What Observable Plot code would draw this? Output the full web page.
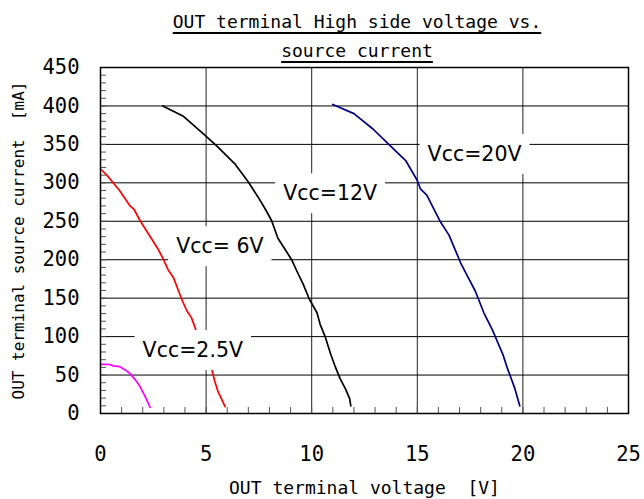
<!DOCTYPE html>
<html>
<head>
<meta charset="utf-8">
<script src="https://cdn.jsdelivr.net/npm/d3@7"></script>
<script src="https://cdn.jsdelivr.net/npm/@observablehq/plot@0.6"></script>
<style>
  html, body { margin: 0; padding: 0; background: #fff; }
  body { width: 644px; height: 499px; overflow: hidden; font-family: "DejaVu Sans Mono", monospace; }
  #title { position: relative; height: 60px; width: 644px; }
  .tline { position: absolute; left: 357px; transform: translateX(-50%); white-space: nowrap;
           font-family: "DejaVu Sans Mono", monospace;
           font-size: 18px; color: #000; text-decoration: underline; text-decoration-thickness: 2px;
           text-underline-offset: 4px; line-height: 24px; }
  svg { display: block; overflow: visible; font-family: "DejaVu Sans Mono", monospace; }
  g[aria-label="x-axis tick label"] text, g[aria-label="y-axis tick label"] text { font-size: 20.5px; }
  g[aria-label="x-axis label"] text { font-size: 18px; }
  g[aria-label="y-axis label"] text { font-size: 16px; }
</style>
</head>
<body>
<div id="title">
  <div class="tline" style="top:10px">OUT terminal High side voltage vs.</div>
  <div class="tline" style="top:39px">source current</div>
</div>
<script>
// ---- data ----
const xTicks = [0, 5, 10, 15, 20, 25];
const yTicks = [0, 50, 100, 150, 200, 250, 300, 350, 400, 450];

const v25X = [0, 0.4, 0.6, 0.9, 1.15, 1.4, 1.55, 1.7, 1.85, 2.1, 2.35];
const v25Y = [64, 64, 62, 61, 57, 52, 47, 42, 36, 23, 8];

const v6X = [0, 0.3, 0.6, 0.9, 1.2, 1.4, 1.6, 1.85, 2.1, 2.4, 2.7, 2.95, 3.2, 3.45, 3.7, 3.9, 4.1, 4.3, 4.45, 4.55, 5.26, 5.4, 5.57, 5.73, 5.9];
const v6Y = [318, 310, 300, 290, 278, 270, 265, 252, 241, 228, 215, 202, 187, 177, 159, 145, 133, 125, 114, 105, 58, 43, 28, 19, 9];

const v12X = [2.95, 3.9, 4.9, 5.5, 6.35, 7.0, 7.45, 7.8, 8.1, 8.4, 8.75, 9.05, 9.3, 9.6, 9.9, 10.25, 10.4, 10.65, 10.9, 11.1, 11.35, 11.6, 11.8, 11.85];
const v12Y = [400, 387, 363, 348, 325, 301, 282, 266, 251, 228, 213, 200, 185, 168, 148, 131, 116, 99, 77, 62, 45, 32, 19, 10];

const v20X = [11.0, 12.0, 12.9, 13.65, 14.45, 15.0, 15.15, 15.45, 16.1, 16.5, 16.9, 17.05, 17.35, 17.75, 18.15, 18.55, 19.05, 19.25, 19.6, 19.85];
const v20Y = [402, 390, 370, 350, 329, 303, 292, 284, 249, 232, 206, 196, 180, 159, 131, 109, 77, 60, 34, 10];

const labelText = ["Vcc=20V", "Vcc=12V", "Vcc= 6V", "Vcc=2.5V"];
const labelX = [17.71, 10.87, 5.65, 4.37];
const labelY = [337, 286, 217, 82];

// ---- build tables ----
const pts = (xs, ys) => xs.map((x, i) => ({x, y: ys[i]}));
const labels = labelText.map((t, i) => ({t, x: labelX[i], y: labelY[i]}));

const chart = Plot.plot({
  width: 644,
  height: 439,
  marginTop: 7,
  marginBottom: 86,
  marginLeft: 100,
  marginRight: 16,
  style: {background: "#fff", color: "#000", overflow: "visible"},
  x: {domain: [0, 25]},
  y: {domain: [0, 450]},
  marks: [
    Plot.gridX(xTicks, {stroke: "#222", strokeOpacity: 1, strokeWidth: 1}),
    Plot.gridY(yTicks, {stroke: "#000", strokeOpacity: 1, strokeWidth: 1}),
    Plot.axisX(d3.range(0, 26, 1), {tickSize: -6, text: null, stroke: "#555", label: null}),
    Plot.axisY(d3.range(0, 451, 10), {tickSize: -6, text: null, stroke: "#555", label: null}),
    Plot.axisX(xTicks, {tickSize: 0, tickPadding: 33, label: "OUT terminal voltage\u00a0\u00a0[V]", labelAnchor: "center", labelArrow: "none", labelOffset: 80}),
    Plot.axisY(yTicks, {tickSize: 0, tickPadding: 21, label: "OUT terminal source current\u00a0\u00a0[mA]", labelAnchor: "center", labelArrow: "none", labelOffset: 88}),
    Plot.line(pts(v25X, v25Y), {x: "x", y: "y", stroke: "#ff00ff", strokeWidth: 1.7}),
    Plot.line(pts(v6X, v6Y), {x: "x", y: "y", stroke: "#ff0000", strokeWidth: 1.7}),
    Plot.line(pts(v12X, v12Y), {x: "x", y: "y", stroke: "#000000", strokeWidth: 1.7}),
    Plot.line(pts(v20X, v20Y), {x: "x", y: "y", stroke: "#000080", strokeWidth: 1.7}),
    Plot.text(labels, {x: "x", y: "y", text: "t", fontSize: 20.5, fontFamily: "DejaVu Sans", fill: "#000"}),
    Plot.frame({stroke: "#000", strokeWidth: 1.5})
  ]
});
document.body.append(chart);

// white boxes behind the series labels
Array.from(chart.querySelectorAll("text"))
  .filter(t => labelText.includes(t.textContent))
  .forEach(t => {
    const bb = t.getBBox();
    const r = document.createElementNS("http://www.w3.org/2000/svg", "rect");
    const cy = bb.y + bb.height / 2;
    r.setAttribute("x", bb.x - 8);
    r.setAttribute("y", cy - 20);
    r.setAttribute("width", bb.width + 16);
    r.setAttribute("height", 40);
    r.setAttribute("fill", "#fff");
    const tr = t.getAttribute("transform");
    if (tr) r.setAttribute("transform", tr);
    t.parentNode.insertBefore(r, t);
  });
</script>
</body>
</html>
